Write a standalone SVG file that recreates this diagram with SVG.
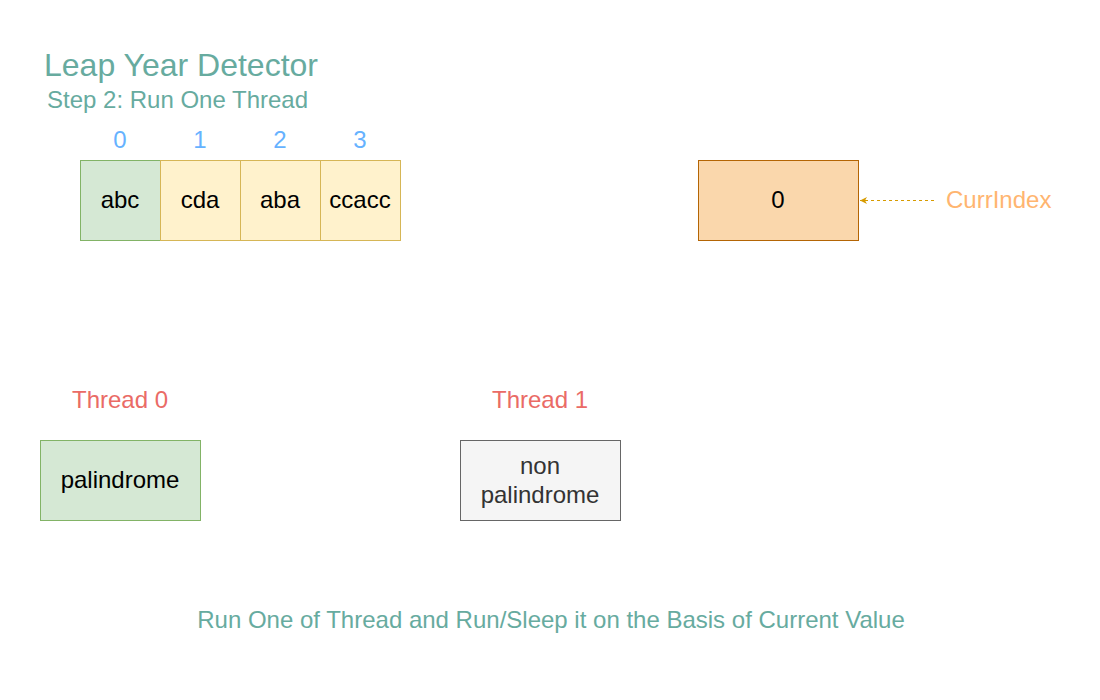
<svg xmlns="http://www.w3.org/2000/svg" width="1100" height="700" viewBox="0 0 1100 700">
<style>
text{font-family:"Liberation Sans",Arial,sans-serif;font-size:24px;}
.c{text-anchor:middle;}
.green{fill:#67AB9F;}
.idx{fill:#66B2FF;}
.red{fill:#EA6B66;}
.g{fill:#d5e8d4;stroke:#82b366;stroke-width:1;}
.y{fill:#fff2cc;stroke:#d6b656;stroke-width:1;}
.o{fill:#fad7ac;stroke:#b46504;stroke-width:1;}
.gr{fill:#f5f5f5;stroke:#666666;stroke-width:1;}
</style>
<defs>
<marker id="ah" markerWidth="8" markerHeight="8" refX="7" refY="4" orient="auto" markerUnits="userSpaceOnUse">
<path d="M7,4 L0,0.5 L2,4 L0,7.5 Z" fill="#d79b00"/>
</marker>
</defs>
<rect width="1100" height="700" fill="#ffffff"/>
<g id="title">
<text x="44" y="76" class="green" style="font-size:32px">Leap Year Detector</text>
<text x="47" y="108" class="green">Step 2: Run One Thread</text>
</g>
<g id="indices">
<text x="120" y="148" class="c idx">0</text>
<text x="200" y="148" class="c idx">1</text>
<text x="280" y="148" class="c idx">2</text>
<text x="360" y="148" class="c idx">3</text>
</g>
<g id="cell0"><rect x="80.5" y="160.5" width="80" height="80" class="g"/><text x="120" y="208" class="c">abc</text></g>
<g id="cell1"><rect x="160.5" y="160.5" width="80" height="80" class="y"/><text x="200" y="208" class="c">cda</text></g>
<g id="cell2"><rect x="240.5" y="160.5" width="80" height="80" class="y"/><text x="280" y="208" class="c">aba</text></g>
<g id="cell3"><rect x="320.5" y="160.5" width="80" height="80" class="y"/><text x="360" y="208" class="c">ccacc</text></g>
<g id="curr"><rect x="698.5" y="160.5" width="160" height="80" class="o"/><text x="778" y="208" class="c">0</text></g>
<g id="currlabel"><text x="946" y="208" style="fill:#FFB570">CurrIndex</text></g>
<g id="connectors">
<line x1="934" y1="200.5" x2="860" y2="200.5" stroke="#d79b00" stroke-width="1" stroke-dasharray="3,3" marker-end="url(#ah)"/>
</g>
<g id="thread0label"><text x="120" y="408" class="c red">Thread 0</text></g>
<g id="thread1label"><text x="540" y="408" class="c red">Thread 1</text></g>
<g id="thread0"><rect x="40.5" y="440.5" width="160" height="80" class="g"/><text x="120" y="488" class="c">palindrome</text></g>
<g id="thread1"><rect x="460.5" y="440.5" width="160" height="80" class="gr"/><text x="540" y="474" class="c" fill="#333333">non</text><text x="540" y="503" class="c" fill="#333333">palindrome</text></g>
<g id="footer"><text x="551" y="628" class="c green">Run One of Thread and Run/Sleep it on the Basis of Current Value</text></g>
</svg>
